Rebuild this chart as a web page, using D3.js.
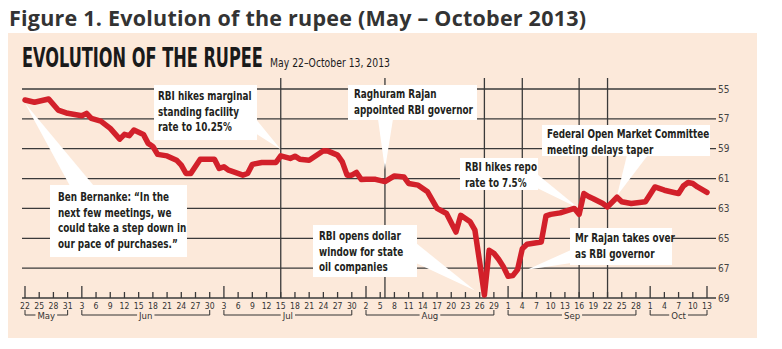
<!DOCTYPE html>
<html><head><meta charset="utf-8">
<script src="https://cdn.jsdelivr.net/npm/d3@7"></script>
<style>body{margin:0;background:#fff;} svg{display:block}</style>
</head><body>
<svg id="c" width="782" height="349"></svg>
<script>
// ---- data ----
const dates = ["2013-05-22","2013-05-24","2013-05-27","2013-05-29","2013-05-31","2013-06-03","2013-06-04","2013-06-05","2013-06-07","2013-06-09",
"2013-06-11","2013-06-12","2013-06-13","2013-06-14","2013-06-16","2013-06-17","2013-06-18","2013-06-19","2013-06-21","2013-06-23",
"2013-06-24","2013-06-25","2013-06-26","2013-06-28","2013-07-01","2013-07-02","2013-07-03","2013-07-04","2013-07-07","2013-07-08",
"2013-07-09","2013-07-11","2013-07-14","2013-07-15","2013-07-17","2013-07-18","2013-07-19","2013-07-21","2013-07-24","2013-07-25",
"2013-07-27","2013-07-28","2013-07-29","2013-07-30","2013-07-31","2013-08-01","2013-08-02","2013-08-04","2013-08-06","2013-08-08",
"2013-08-10","2013-08-11","2013-08-13","2013-08-15","2013-08-17","2013-08-19","2013-08-21","2013-08-22","2013-08-24","2013-08-25",
"2013-08-26","2013-08-27","2013-08-28","2013-08-29","2013-08-30","2013-08-31","2013-09-01","2013-09-02","2013-09-03","2013-09-04",
"2013-09-05","2013-09-07","2013-09-08","2013-09-09","2013-09-10","2013-09-12","2013-09-14","2013-09-15","2013-09-16","2013-09-17",
"2013-09-18","2013-09-19","2013-09-21","2013-09-22","2013-09-24","2013-09-25","2013-09-27","2013-09-30","2013-10-02","2013-10-04",
"2013-10-06","2013-10-07","2013-10-08","2013-10-09","2013-10-10","2013-10-11","2013-10-13"];
const rupee = [55.74,55.89,55.67,56.41,56.63,56.79,56.63,56.97,57.15,57.64,
58.36,58.04,58.13,57.75,58.04,58.64,58.85,59.38,59.48,59.77,
60.10,60.66,60.66,59.70,59.70,60.32,60.21,60.44,60.77,60.66,
60.05,59.92,59.92,59.48,59.65,59.50,59.70,59.77,59.14,59.16,
59.43,59.88,60.77,60.77,60.59,61.06,61.04,61.05,61.20,60.82,
60.89,61.33,61.44,61.89,63.00,63.34,64.58,63.46,63.90,64.46,
66.60,68.80,65.80,66.00,66.40,66.90,67.55,67.50,67.10,65.70,
65.40,65.30,65.25,63.50,63.40,63.30,63.10,63.00,63.40,62.00,
62.20,62.35,62.67,62.90,62.25,62.55,62.67,62.55,61.56,61.78,
61.93,62.00,61.50,61.26,61.33,61.56,61.93];
const yTicks = [55,57,59,61,63,65,67,69];
const months = ["May","Jun","Jul","Aug","Sep","Oct"];
const eventDates = ["2013-07-15","2013-08-06","2013-08-27","2013-09-04","2013-09-16","2013-09-22"];
const figureTitle = "Figure 1. Evolution of the rupee (May \u2013 October 2013)";
const chartTitle = "EVOLUTION OF THE RUPEE";
const chartSub = "May 22\u2013October 13, 2013";
const annotations = [
  {lines:["RBI hikes marginal","standing facility","rate to 10.25%"], tip:["2013-07-15",59.05]},
  {lines:["Raghuram Rajan","appointed RBI governor"], tip:["2013-08-06",60.4]},
  {lines:["Federal Open Market Committee","meeting delays taper"], tip:["2013-09-24",62.15]},
  {lines:["RBI hikes repo","rate to 7.5%"], tip:["2013-09-16",63.0]},
  {lines:["Ben Bernanke: \u201CIn the","next few meetings, we","could take a step down in","our pace of purchases.\u201D"], tip:["2013-05-22",55.95]},
  {lines:["RBI opens dollar","window for state","oil companies"], tip:["2013-08-25",68.5]},
  {lines:["Mr Rajan takes over","as RBI governor"], tip:["2013-09-05",67.1]}
];
// layout of the annotation boxes (x, y, w, h, text x, first baseline, pointer base)
const boxLayout = [
  {x:154,y:85,w:103,h:55,tx:158,ty:100,base:[[255,118],[255,133]]},
  {x:348,y:85,w:129,h:35,tx:354,ty:98,base:[[378,119],[393,119]]},
  {x:542,y:125,w:168,h:31,tx:547,ty:138,base:[[627,155],[648,155]]},
  {x:460,y:158,w:78,h:32,tx:465,ty:171,base:[[537,174],[537,188]]},
  {x:50,y:185,w:137,h:72,tx:58,ty:201,base:[[70,186],[94,186]]},
  {x:313,y:225,w:104,h:52,tx:319,ty:240,base:[[416,243],[416,263]]},
  {x:570,y:228,w:102,h:37,tx:575,ty:242,base:[[571,250],[571,263]]}
];

const parse = d3.timeParse("%Y-%m-%d");
const data = dates.map((d,i)=>({date:parse(d), v:rupee[i]}));
const start = parse("2013-05-22"), end = parse("2013-10-13");

const svg = d3.select("#c");
const NARROW = "'Liberation Sans Narrow','DejaVu Sans Condensed','Arial Narrow',sans-serif";

// helper: squeeze a text horizontally to a target width
function fitText(sel, x0, y0, targetW){
  const w = sel.node().getComputedTextLength();
  sel.attr("transform",`translate(${x0},${y0}) scale(${targetW/w},1)`);
}

// panel
svg.append("rect").attr("x",8).attr("y",33).attr("width",749).attr("height",305).attr("fill","#fce9da");

svg.append("text").attr("x",9).attr("y",26).text(figureTitle)
  .attr("font-family","'Open Sans',sans-serif").attr("font-weight",700).attr("font-size",21.5).attr("fill","#333")
  .attr("textLength",577).attr("lengthAdjust","spacing");

const t1 = svg.append("text").text(chartTitle)
  .attr("font-family",NARROW).attr("font-weight",700).attr("font-size",26).attr("fill","#1a1a1a");
fitText(t1, 22, 67, 241);
const t2 = svg.append("text").text(chartSub)
  .attr("font-family",NARROW).attr("font-size",12).attr("fill","#1a1a1a");
fitText(t2, 270, 67, 120);

const x = d3.scaleTime().domain([start,end]).range([25,707]);
const y = d3.scaleLinear().domain([55,69]).range([89,298]);

const gridC = "#3a3a3a";
// horizontal gridlines
svg.append("g").selectAll("line").data(yTicks).join("line")
  .attr("x1",22).attr("x2",716).attr("y1",d=>y(d)).attr("y2",d=>y(d))
  .attr("stroke",gridC).attr("stroke-width",1.3);
svg.append("g").selectAll("text").data(yTicks).join("text")
  .attr("x",718).attr("y",d=>y(d)+3.5).text(d=>d)
  .attr("font-family",NARROW).attr("font-size",10).attr("fill","#444");

// event vertical lines
svg.append("g").selectAll("line").data(eventDates).join("line")
  .attr("x1",d=>x(parse(d))).attr("x2",d=>x(parse(d))).attr("y1",78).attr("y2",298)
  .attr("stroke",gridC).attr("stroke-width",1.3);

// x ticks every 3 days
const tickDates = d3.timeDay.range(start, d3.timeDay.offset(end,1), 3);
const fmtDay = d3.timeFormat("%-d");
const monthFirst = new Set();
months.forEach((m,i)=>{
  const md = tickDates.filter(d=>d.getMonth()===4+i);
  monthFirst.add(+md[0]);
});
monthFirst.add(+end);
const tg = svg.append("g");
tg.selectAll("line").data(tickDates).join("line")
  .attr("x1",d=>x(d)).attr("x2",d=>x(d))
  .attr("y1",d=>monthFirst.has(+d)?286:292).attr("y2",298)
  .attr("stroke",gridC).attr("stroke-width",1.3);
tg.selectAll("text").data(tickDates).join("text")
  .attr("transform",d=>`translate(${x(d)},308.5) scale(0.9,1)`).attr("text-anchor","middle").text(d=>fmtDay(d))
  .attr("font-family",NARROW).attr("font-size",9.5).attr("fill","#333");

// month brackets
const bg = svg.append("g");
months.forEach((m,i)=>{
  const md = tickDates.filter(d=>d.getMonth()===4+i);
  const x0 = x(md[0]), x1 = x(md[md.length-1]);
  const cx = (x0+x1)/2;
  const t = bg.append("text").attr("x",cx).attr("y",318.5).attr("text-anchor","middle").text(m)
    .attr("font-family",NARROW).attr("font-size",9.5).attr("fill","#333");
  const w = t.node().getComputedTextLength();
  bg.append("path").attr("d",`M${x0},310V315H${cx-w/2-2}M${cx+w/2+2},315H${x1}V310`)
    .attr("fill","none").attr("stroke","#333").attr("stroke-width",1);
});

// annotation boxes and pointers
const ag = svg.append("g");
annotations.forEach((a,i)=>{
  const L = boxLayout[i];
  const tx = x(parse(a.tip[0])), ty = y(a.tip[1]);
  ag.append("path").attr("d",`M${L.base[0][0]},${L.base[0][1]}L${tx},${ty}L${L.base[1][0]},${L.base[1][1]}Z`).attr("fill","#fff");
  ag.append("rect").attr("x",L.x).attr("y",L.y).attr("width",L.w).attr("height",L.h).attr("fill","#fff");
});

// line
svg.append("path").datum(data)
  .attr("d",d3.line().x(d=>x(d.date)).y(d=>y(d.v)).curve(d3.curveLinear))
  .attr("fill","none").attr("stroke","#d2202a").attr("stroke-width",5.5)
  .attr("stroke-linejoin","round").attr("stroke-linecap","round");

// annotation text (horizontally condensed to mimic the narrow face)
annotations.forEach((a,i)=>{
  const L = boxLayout[i];
  a.lines.forEach((ln,j)=>{
    svg.append("text").attr("transform",`translate(${L.tx},${L.ty+j*15.5}) scale(0.82,1)`).text(ln)
      .attr("font-family",NARROW).attr("font-weight",700).attr("font-size",12).attr("fill","#231f20");
  });
});
</script>
</body></html>
